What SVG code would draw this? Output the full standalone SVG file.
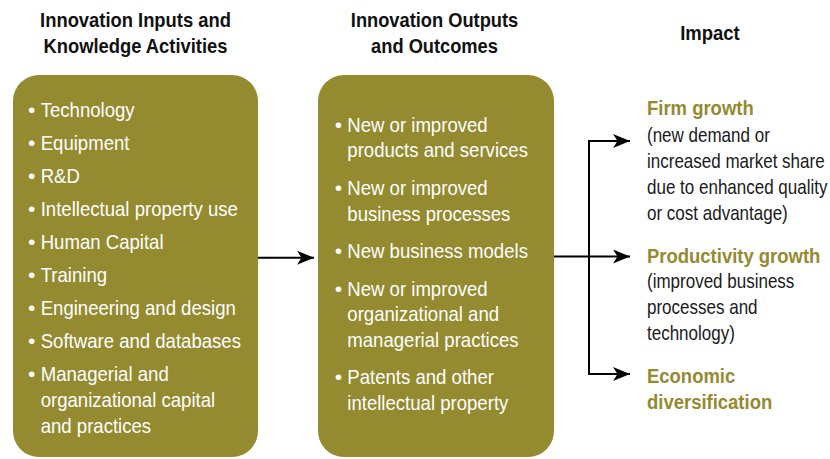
<svg xmlns="http://www.w3.org/2000/svg" width="830" height="459" viewBox="0 0 830 459">
<style>
  .box { fill: #948a30; }
  .hd { font-family: "Liberation Sans", Arial, sans-serif; font-size: 21px; font-weight: bold; fill: #111; text-anchor: middle; }
  .bt { font-family: "Liberation Sans", Arial, sans-serif; font-size: 21px; fill: #ffffff; }
  .bul { font-family: "Liberation Sans", Arial, sans-serif; font-size: 21px; fill: #ffffff; }
  .ot { font-family: "Liberation Sans", Arial, sans-serif; font-size: 21px; font-weight: bold; fill: #948a30; }
  .rt { font-family: "Liberation Sans", Arial, sans-serif; font-size: 21px; fill: #1a1a1a; }
  .conn { fill: none; stroke: #000; stroke-width: 2; }
</style>
<defs>
  <marker id="arr" markerUnits="userSpaceOnUse" markerWidth="18" markerHeight="14" refX="17" refY="7" orient="auto">
    <path d="M0,0 L17,7 L0,14 L4.5,7 Z" fill="#000"/>
  </marker>
</defs>
<rect width="830" height="459" fill="#ffffff"/>

<g id="heading-inputs">
  <g transform="translate(135.5 0) scale(0.875 1)">
    <text class="hd"><tspan x="0" y="26.7">Innovation Inputs and</tspan><tspan x="0" y="52.7">Knowledge Activities</tspan></text>
  </g>
</g>
<g id="heading-outputs">
  <g transform="translate(434.5 0) scale(0.87 1)">
    <text class="hd"><tspan x="0" y="26.7">Innovation Outputs</tspan><tspan x="0" y="52.7">and Outcomes</tspan></text>
  </g>
</g>
<g id="heading-impact">
  <g transform="translate(710 0) scale(0.88 1)">
    <text class="hd"><tspan x="0" y="40">Impact</tspan></text>
  </g>
</g>

<g id="node-inputs">
  <rect class="box" x="13" y="75" width="245" height="382" rx="26" ry="26"/>
  <text class="bul"><tspan x="28" y="116.6">•</tspan><tspan x="28" y="149.7">•</tspan><tspan x="28" y="182.8">•</tspan><tspan x="28" y="215.9">•</tspan><tspan x="28" y="249">•</tspan><tspan x="28" y="282.1">•</tspan><tspan x="28" y="315.2">•</tspan><tspan x="28" y="348.3">•</tspan><tspan x="28" y="381.4">•</tspan></text>
  <g transform="translate(40.7 0) scale(0.885 1)">
    <text class="bt">
      <tspan x="0" y="116.6">Technology</tspan>
      <tspan x="0" y="149.7">Equipment</tspan>
      <tspan x="0" y="182.8">R&amp;D</tspan>
      <tspan x="0" y="215.9">Intellectual property use</tspan>
      <tspan x="0" y="249">Human Capital</tspan>
      <tspan x="0" y="282.1">Training</tspan>
      <tspan x="0" y="315.2">Engineering and design</tspan>
      <tspan x="0" y="348.3">Software and databases</tspan>
      <tspan x="0" y="381.4">Managerial and</tspan>
      <tspan x="0" y="407">organizational capital</tspan>
      <tspan x="0" y="432.6">and practices</tspan>
    </text>
  </g>
</g>

<g id="node-outputs">
  <rect class="box" x="318" y="75" width="236" height="382" rx="26" ry="26"/>
  <text class="bul"><tspan x="334.7" y="131.7">•</tspan><tspan x="334.7" y="195">•</tspan><tspan x="334.7" y="258.3">•</tspan><tspan x="334.7" y="295.7">•</tspan><tspan x="334.7" y="384.3">•</tspan></text>
  <g transform="translate(347.3 0) scale(0.885 1)">
    <text class="bt">
      <tspan x="0" y="131.7">New or improved</tspan>
      <tspan x="0" y="157.5">products and services</tspan>
      <tspan x="0" y="195">New or improved</tspan>
      <tspan x="0" y="220.8">business processes</tspan>
      <tspan x="0" y="258.3">New business models</tspan>
      <tspan x="0" y="295.7">New or improved</tspan>
      <tspan x="0" y="321.5">organizational and</tspan>
      <tspan x="0" y="347.3">managerial practices</tspan>
      <tspan x="0" y="384.3">Patents and other</tspan>
      <tspan x="0" y="410">intellectual property</tspan>
    </text>
  </g>
</g>

<g id="node-firm-growth">
  <g transform="translate(647 0) scale(0.88 1)">
    <text class="ot"><tspan x="0" y="115">Firm growth</tspan></text>
  </g>
  <g transform="translate(647 0) scale(0.81 1)">
    <text class="rt">
      <tspan x="0" y="142.3">(new demand or</tspan>
      <tspan x="0" y="168.3">increased market share</tspan>
      <tspan x="0" y="194.3">due to enhanced quality</tspan>
      <tspan x="0" y="219.8">or cost advantage)</tspan>
    </text>
  </g>
</g>

<g id="node-productivity-growth">
  <g transform="translate(647 0) scale(0.88 1)">
    <text class="ot"><tspan x="0" y="262.7">Productivity growth</tspan></text>
  </g>
  <g transform="translate(647 0) scale(0.81 1)">
    <text class="rt">
      <tspan x="0" y="288.5">(improved business</tspan>
      <tspan x="0" y="314.3">processes and</tspan>
      <tspan x="0" y="340">technology)</tspan>
    </text>
  </g>
</g>

<g id="node-economic-diversification">
  <g transform="translate(647 0) scale(0.88 1)">
    <text class="ot"><tspan x="0" y="383.3">Economic</tspan><tspan x="0" y="409.3">diversification</tspan></text>
  </g>
</g>

<g id="connectors">
  <path class="conn" d="M258,257.7 L314,257.7" marker-end="url(#arr)"/>
  <path class="conn" d="M554,256.5 L630,256.5" marker-end="url(#arr)"/>
  <path class="conn" d="M589,374 L589,141 L630,141" marker-end="url(#arr)"/>
  <path class="conn" d="M589,256 L589,374 L630,374" marker-end="url(#arr)"/>
</g>
</svg>
